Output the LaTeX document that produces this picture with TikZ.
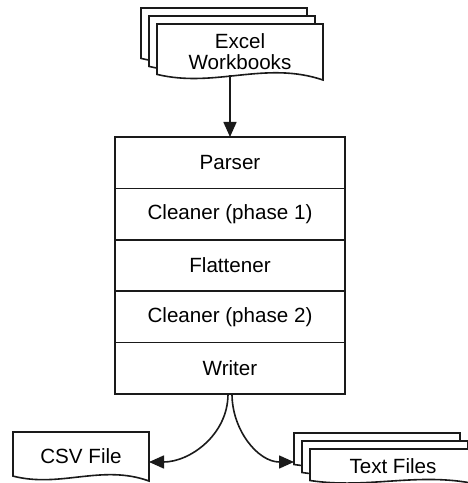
\documentclass[tikz,border=0pt]{standalone}
\usepackage{fontspec}
\setmainfont{Liberation Sans}
\usepackage{tikz}
\usetikzlibrary{
  arrows.meta,
  positioning,
  calc,
  backgrounds
}
\definecolor{wfLine}{HTML}{1A1A1A}
\tikzset{
  wfnode/.style={
    rectangle, inner sep=0pt, outer sep=0pt, align=center,
    font=\fontsize{20.6}{21}\selectfont
  },
  stage/.style={wfnode, draw=wfLine, line width=1.6pt, minimum width=230pt, minimum height=51.4pt},
  exceldoc/.style={wfnode, minimum width=166pt, minimum height=56pt},
  csvdoc/.style={wfnode, minimum width=136pt, minimum height=49pt},
  textdoc/.style={wfnode, minimum width=166pt, minimum height=35pt},
  docline/.style={draw=wfLine, fill=white, line width=1.6pt},
  flow/.style={-{Triangle[length=15pt, width=13pt]}, line width=1.6pt, wfLine}
}
% page outline with a wavy lower edge, taken from the node's corners
\newcommand\docoutline[1]{%
  \path[docline] let \p1=(#1.south west), \p2=(#1.north east),
    \n1={\x2-\x1}, \n2={\y2-\y1} in
    (\x1,\y1+0.1*\n2) -- (\x1,\y2) -- (\x2,\y2) -- (\x2,\y1)
    .. controls (\x1+0.65*\n1,\y1+0.35*\n2) and (\x1+0.35*\n1,\y1-0.15*\n2) .. (\x1,\y1+0.1*\n2) -- cycle;}

\begin{document}
\begin{tikzpicture}[x=1pt, y=1pt]
  \useasboundingbox (0,0) rectangle (467,483);
  % processing stages
  \node[stage] (parser) at (230,320.3) {Parser};
  \node[stage, below=0pt of parser] (clean1) {Cleaner (phase 1)};
  \node[stage, below=0pt of clean1] (flatten) {Flattener};
  \node[stage, below=0pt of flatten] (clean2) {Cleaner (phase 2)};
  \node[stage, below=0pt of clean2] (writer) {Writer};
  % input and output files
  \node[exceldoc] (excel) at (240,431) {Excel\\Workbooks};
  \node[exceldoc] (excel2) at ([shift={(-8,8)}]excel.center) {};
  \node[exceldoc] (excel3) at ([shift={(-16,16)}]excel.center) {};
  \node[csvdoc] (csv) at (81,26.5) {CSV File};
  \node[textdoc] (text) at (393,16.5) {Text Files};
  \node[textdoc] (text2) at ([shift={(-8,8)}]text.center) {};
  \node[textdoc] (text3) at ([shift={(-16,16)}]text.center) {};
  \begin{scope}[on background layer]
    \foreach \doc in {excel3, excel2, excel, csv, text3, text2, text} {\docoutline{\doc}}
  \end{scope}
  \coordinate (csvin) at ([yshift=-5.5pt]csv.east);
  \coordinate (textin) at (text3.west |- csvin);
  \draw[flow] ($(excel.south -| parser.north)+(0,4.5)$) -- (parser.north);
  \draw[flow] ([xshift=-2pt]writer.south) to[out=-90, in=0] (csvin);
  \draw[flow] ([xshift=2pt]writer.south) to[out=-90, in=180] (textin);
\end{tikzpicture}
\end{document}
